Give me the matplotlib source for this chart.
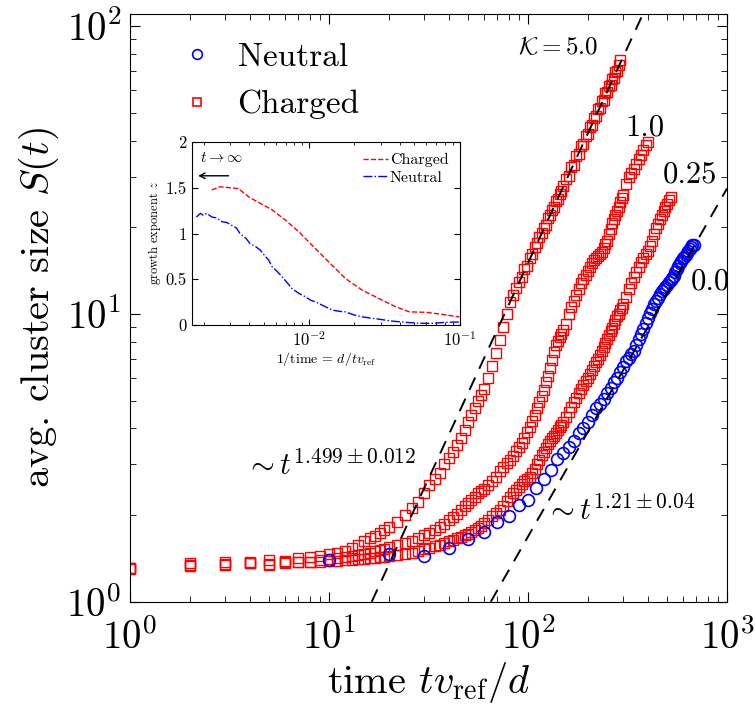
import numpy as np
import matplotlib
matplotlib.use("Agg")
import matplotlib.pyplot as plt

plt.rcParams['font.family'] = 'serif'
plt.rcParams['font.serif'] = ['cmr10', 'DejaVu Serif']
plt.rcParams['mathtext.fontset'] = 'cm'
plt.rcParams['axes.formatter.use_mathtext'] = True

# time grid shared by the charged runs
t_charged = np.r_[np.arange(1, 21), np.arange(22, 61, 2), np.arange(63, 151, 3),
                  np.arange(155, 301, 5), np.arange(310, 521, 10)]

# K = 5.0 (ends at t = 290)
S_k50 = [1.31, 1.36, 1.38, 1.37, 1.40, 1.39, 1.42, 1.43, 1.44, 1.46,
         1.48, 1.50, 1.54, 1.57, 1.62, 1.66, 1.69, 1.74, 1.78, 1.82,
         1.90, 2.00, 2.12, 2.22, 2.38, 2.55, 2.68, 2.81, 3.00, 3.15,
         3.32, 3.50, 3.72, 3.95, 4.20, 4.45, 4.72, 5.00, 5.25, 5.50,
         6.0, 6.6, 7.3, 8.1, 9.0, 10.0, 11.0, 11.6, 12.3, 12.9,
         13.4, 14.3, 14.7, 15.6, 16.1, 17.1, 17.6, 18.5, 19.1, 19.9,
         20.4, 21.5, 22.0, 23.0, 23.6, 24.6, 25.1, 26.2, 26.8, 27.8,
         29.4, 30.2, 32.3, 33.0, 35.3, 36.0, 38.4, 39.0, 41.5, 42.1,
         44.8, 45.3, 48.1, 48.6, 51.4, 52.0, 54.9, 55.4, 58.4, 58.9,
         62.0, 62.5, 65.7, 66.2, 69.5, 70.0, 73.4, 76.5]

# K = 1.0 (ends at t = 400)
S_k10 = [1.30, 1.34, 1.35, 1.36, 1.35, 1.37, 1.38, 1.38, 1.40, 1.41,
         1.42, 1.43, 1.44, 1.45, 1.47, 1.48, 1.50, 1.51, 1.53, 1.55,
         1.57, 1.60, 1.63, 1.67, 1.71, 1.74, 1.78, 1.82, 1.87, 1.93,
         1.97, 2.02, 2.09, 2.16, 2.21, 2.26, 2.32, 2.38, 2.43, 2.47,
         2.55, 2.62, 2.71, 2.85, 2.95, 3.04, 3.12, 3.22, 3.33, 3.45,
         3.57, 3.72, 3.90, 4.05, 4.25, 4.45, 4.70, 4.95, 5.20, 5.45,
         5.80, 6.10, 6.50, 6.90, 7.35, 7.80, 8.05, 8.30, 8.55, 8.80,
         9.2, 10.0, 10.6, 11.1, 11.6, 12.2, 12.8, 13.2, 13.7, 14.1,
         14.6, 15.0, 15.4, 15.7, 15.9, 16.1, 16.4, 16.9, 17.5, 18.0,
         18.9, 19.8, 20.7, 21.3, 22.0, 22.8, 23.6, 24.5, 25.3, 26.0,
         28.2, 29.8, 31.0, 32.0, 33.3, 34.5, 35.8, 37.0, 38.5, 39.6]

# K = 0.25 (ends at t = 520)
S_k025 = [1.31, 1.33, 1.34, 1.36, 1.34, 1.36, 1.37, 1.37, 1.38, 1.39,
          1.39, 1.40, 1.40, 1.41, 1.41, 1.42, 1.42, 1.43, 1.43, 1.44,
          1.45, 1.46, 1.48, 1.50, 1.52, 1.54, 1.56, 1.58, 1.60, 1.62,
          1.64, 1.66, 1.68, 1.70, 1.72, 1.75, 1.77, 1.80, 1.84, 1.88,
          1.93, 1.98, 2.03, 2.08, 2.15, 2.24, 2.32, 2.39, 2.44, 2.50,
          2.56, 2.62, 2.67, 2.72, 2.80, 2.90, 3.00, 3.12, 3.24, 3.32,
          3.42, 3.52, 3.62, 3.70, 3.78, 3.86, 3.95, 4.05, 4.12, 4.22,
          4.38, 4.55, 4.75, 4.95, 5.12, 5.30, 5.48, 5.65, 5.85, 6.00,
          6.20, 6.40, 6.60, 6.80, 7.00, 7.20, 7.45, 7.70, 7.95, 8.20,
          8.45, 8.70, 8.95, 9.25, 9.55, 9.80, 10.0, 10.3, 10.5, 10.8,
          11.5, 12.2, 12.8, 13.4, 14.0, 14.6, 15.2, 15.7, 16.1, 16.5,
          17.2, 18.0, 19.0, 19.9, 20.6, 21.3, 22.0, 22.8, 23.5, 24.2, 24.8, 25.4]

# neutral run, sampled every 10
t_neutral = np.arange(10, 681, 10)
S_neutral = [1.40, 1.46, 1.44, 1.54, 1.65, 1.75, 1.90, 1.98, 2.17, 2.26,
             2.49, 2.67, 2.86, 3.14, 3.30, 3.45, 3.62, 3.85, 4.00, 4.20,
             4.45, 4.70, 4.85, 5.05, 5.30, 5.55, 5.80, 6.00, 6.30, 6.55,
             6.85, 7.05, 7.25, 7.45, 7.80, 8.20, 8.50, 8.90, 9.30, 9.70,
             10.1, 10.4, 10.8, 11.1, 11.4, 11.7, 12.0, 12.2, 12.4, 12.6,
             12.9, 13.1, 13.3, 13.6, 14.0, 14.3, 14.7, 15.0, 15.3, 15.6,
             15.8, 16.0, 16.3, 16.6, 16.8, 17.1, 17.3, 17.4]

# power-law guides: S = (t / t0)^b
fit_t0 = [16.4, 65.0]
fit_b = [1.499, 1.21]

# inset: growth exponent vs 1/time
inv_c = [0.00226, 0.00255, 0.00298, 0.00340, 0.00397, 0.00462, 0.00567, 0.00692,
         0.00854, 0.0105, 0.0135, 0.0174, 0.0226, 0.0291, 0.0376, 0.0463, 0.0597,
         0.0770, 0.0996]
z_c = [1.475, 1.51, 1.50, 1.49, 1.40, 1.34, 1.26, 1.15, 1.02, 0.87, 0.69, 0.51,
       0.38, 0.29, 0.20, 0.145, 0.14, 0.117, 0.09]
inv_n = [0.00179, 0.00190, 0.00198, 0.00210, 0.00226, 0.00245, 0.00263, 0.00285,
         0.00306, 0.00330, 0.00348, 0.00380, 0.00406, 0.00440, 0.00474, 0.00512,
         0.00540, 0.00567, 0.00610, 0.00661, 0.00710, 0.00770, 0.00850, 0.00945,
         0.0103, 0.0110, 0.0125, 0.0142, 0.0160, 0.0174, 0.0200, 0.0226, 0.0260,
         0.0291, 0.0350, 0.0440, 0.0550, 0.0661, 0.0800, 0.0996]
z_n = [1.18, 1.22, 1.20, 1.22, 1.18, 1.17, 1.13, 1.12, 1.09, 1.06, 1.00, 0.95,
       0.89, 0.86, 0.82, 0.75, 0.71, 0.64, 0.59, 0.53, 0.47, 0.40, 0.35, 0.31,
       0.27, 0.255, 0.21, 0.165, 0.15, 0.145, 0.11, 0.09, 0.075, 0.065, 0.045,
       0.03, 0.02, 0.02, 0.03, 0.035]

fig = plt.figure(figsize=(7.55, 7.13), dpi=100)
ax = fig.add_axes([0.172, 0.156, 0.791, 0.824])

sq = dict(ls='none', marker='s', mfc='none', mec='red', ms=7.2, mew=1.0)
ax.plot(t_charged[:len(S_k50)], S_k50, **sq)
ax.plot(t_charged[:len(S_k10)], S_k10, **sq)
ax.plot(t_charged[:len(S_k025)], S_k025, **sq)
ax.plot(t_neutral, S_neutral, ls='none', marker='o', mfc='none', mec='blue', ms=8.5, mew=1.2)

for t0, b in zip(fit_t0, fit_b):
    tt = np.logspace(np.log10(t0), 3, 200)
    ax.plot(tt, (tt / t0) ** b, 'k--', lw=1.4, dashes=(7, 5))

ax.set_xscale('log')
ax.set_yscale('log')
ax.set_xlim(1, 1000)
ax.set_ylim(1, 110)
ax.tick_params(which='both', direction='in', top=True, right=True, labelsize=28)
ax.tick_params(axis='x', which='major', pad=12)
ax.tick_params(axis='y', which='major', pad=6)
ax.tick_params(which='major', length=7)
ax.tick_params(which='minor', length=4)
ax.set_xlabel(r'time $tv_{\rm ref}/d$', fontsize=29, labelpad=2)
ax.set_ylabel(r'avg. cluster size $S(t)$', fontsize=29)

h1, = ax.plot([], [], ls='none', marker='o', mfc='none', mec='blue', ms=7, mew=1.2)
h2, = ax.plot([], [], ls='none', marker='s', mfc='none', mec='red', ms=6, mew=1.2)
ax.legend([h1, h2], ['Neutral', 'Charged'], loc='upper left', bbox_to_anchor=(0.062, 0.975),
          frameon=False, fontsize=24, handlelength=1.0, handletextpad=0.72,
          labelspacing=0.55, borderaxespad=0)

ax.text(225, 84, r'$\mathcal{K}=5.0$', fontsize=18, ha='right', va='center')
ax.text(387, 44.2, '1.0', fontsize=22, ha='center', va='center')
ax.text(652, 30.4, '0.25', fontsize=22, ha='center', va='center')
ax.text(822, 12.9, '0.0', fontsize=22, ha='center', va='center')
ax.text(3.78, 2.99, r'$\sim t^{1.499\pm0.012}$', fontsize=22, ha='left', va='center')
ax.text(122, 2.08, r'$\sim t^{1.21\pm0.04}$', fontsize=22, ha='left', va='center')

ins = fig.add_axes([0.254, 0.544, 0.355, 0.257])
ins.plot(inv_c, z_c, 'r--', lw=1.0, label='Charged')
ins.plot(inv_n, z_n, 'b-.', lw=1.0, label='Neutral')
ins.set_xscale('log')
ins.set_xlim(1 / 600, 0.1)
ins.set_ylim(0, 2)
ins.set_yticks([0, 0.5, 1, 1.5, 2])
ins.set_yticklabels(['0', '0.5', '1', '1.5', '2'])
ins.tick_params(which='both', direction='in', top=True, right=True, labelsize=12)
ins.tick_params(which='major', length=4)
ins.tick_params(which='minor', length=2)
ins.set_xlabel(r'1/time = $d/tv_{\rm ref}$', fontsize=10, labelpad=1)
ins.set_ylabel(r'growth exponent $z$', fontsize=9, labelpad=2)
ins.legend(loc='upper right', frameon=False, fontsize=11.5, handlelength=1.6,
           handletextpad=0.1, labelspacing=0.2, borderaxespad=0.3)
ins.text(0.0019, 1.82, r'$t\rightarrow\infty$', fontsize=11, ha='left', va='center')
ins.annotate('', xy=(0.00176, 1.63), xytext=(0.00305, 1.63),
             arrowprops=dict(arrowstyle='->', lw=1.0, color='k'))

fig.savefig('out.png', dpi=100)
